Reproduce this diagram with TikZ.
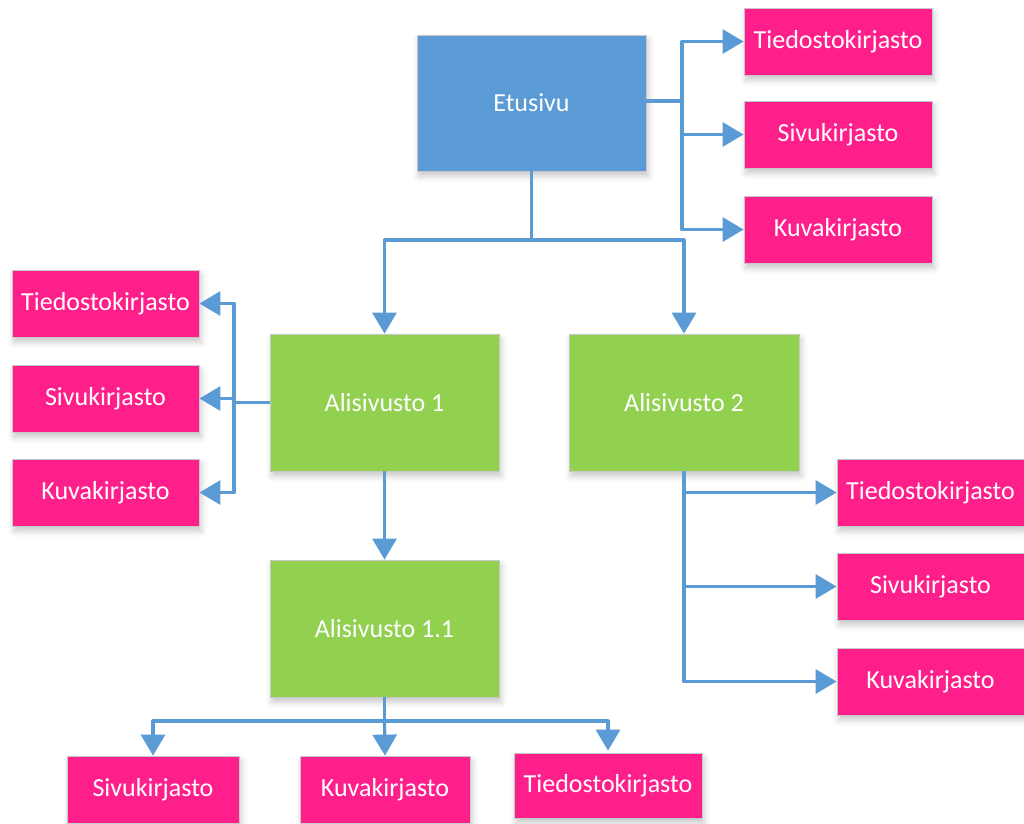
\documentclass[tikz,border=0pt]{standalone}
\usepackage{fontspec}
\setmainfont{Carlito}
\usetikzlibrary{arrows.meta,shadows.blur}
\definecolor{linkblue}{HTML}{5B9BD5}
\definecolor{pagegreen}{HTML}{92D050}
\definecolor{libpink}{HTML}{FF1F8B}
\definecolor{edgegray}{HTML}{C8C8C8}
\tikzset{
  box/.style={draw=edgegray, line width=0.8pt, text=white, inner sep=0pt,
    font=\fontsize{26}{31}\selectfont,
    blur shadow={shadow xshift=2pt, shadow yshift=-5pt, shadow blur radius=6pt, shadow opacity=22}},
  mainbox/.style={box, fill=linkblue, minimum width=229pt, minimum height=136pt},
  pagebox/.style={box, fill=pagegreen, minimum width=229pt, minimum height=137pt},
  libbox/.style={box, fill=libpink, minimum width=188pt, minimum height=67pt},
  link/.style={draw=linkblue, line width=3.2pt, line join=round},
  arr/.style={link, -{Triangle[length=21pt,width=24pt]}}
}
\begin{document}
\begin{tikzpicture}[x=1pt,y=-1pt]
\useasboundingbox (0,0) rectangle (1024,823);

% front page and its libraries
\node[mainbox] (E) at (531.5,103) {Etusivu};
\node[libbox] (R1) at (838,41.5) {Tiedostokirjasto};
\node[libbox] (R2) at (838,134.5) {Sivukirjasto};
\node[libbox] (R3) at (838,229.5) {Kuvakirjasto};

% first level subsites
\node[pagebox] (A1) at (384.5,402.5) {Alisivusto 1};
\node[pagebox, minimum width=230pt] (A2) at (684,402.5) {Alisivusto 2};

% libraries of subsite 1
\node[libbox, minimum width=187pt] (L1) at (105.5,303.5) {Tiedostokirjasto};
\node[libbox, minimum width=187pt] (L2) at (105.5,398.5) {Sivukirjasto};
\node[libbox, minimum width=187pt] (L3) at (105.5,492.5) {Kuvakirjasto};

% second level subsite
\node[pagebox] (A11) at (384.5,628.5) {Alisivusto 1.1};

% libraries of subsite 1.1
\node[libbox, minimum width=172pt] (B1) at (153,789.5) {Sivukirjasto};
\node[libbox, minimum width=170pt] (B2) at (385,789.5) {Kuvakirjasto};
\node[libbox, minimum height=65pt] (B3) at (608,785.5) {Tiedostokirjasto};

% libraries of subsite 2
\node[libbox, minimum width=187pt] (S1) at (930.5,492.5) {Tiedostokirjasto};
\node[libbox, minimum width=187pt] (S2) at (930.5,586.5) {Sivukirjasto};
\node[libbox, minimum width=187pt] (S3) at (930.5,681.5) {Kuvakirjasto};

% connectors from the front page
\coordinate (ej) at (682,101);
\draw[link] (E.east |- ej) -- (ej);
\draw[arr] (ej) |- (R1.west);
\draw[arr] (ej) -- (R2.west -| ej) -- (R2.west);
\draw[arr] (ej) |- (R3.west);
\coordinate (eb) at (531.5,240);
\draw[link] (E.south) -- (eb);
\draw[arr] (eb) -| (A1.north);
\draw[arr] (eb) -| (A2.north);

% connectors from subsite 1
\coordinate (aj) at (234,402.5);
\draw[link] (A1.west) -- (aj);
\draw[arr] (aj) |- (L1.east);
\draw[arr] (aj) -- (L2.east -| aj) -- (L2.east);
\draw[arr] (aj) |- (L3.east);
\draw[arr] (A1.south) -- (A11.north);

% connectors from subsite 1.1
\coordinate (bj) at (384.5,721);
\draw[link] (A11.south) -- (bj);
\draw[arr] (bj) -| (B1.north);
\draw[arr] (bj) -- (B2.north);
\draw[arr] (bj) -| ([yshift=2pt]B3.north);

% connectors from subsite 2
\draw[arr] (A2.south) |- (S1.west);
\draw[arr] (A2.south) |- (S2.west);
\draw[arr] (A2.south) |- (S3.west);
\end{tikzpicture}
\end{document}
